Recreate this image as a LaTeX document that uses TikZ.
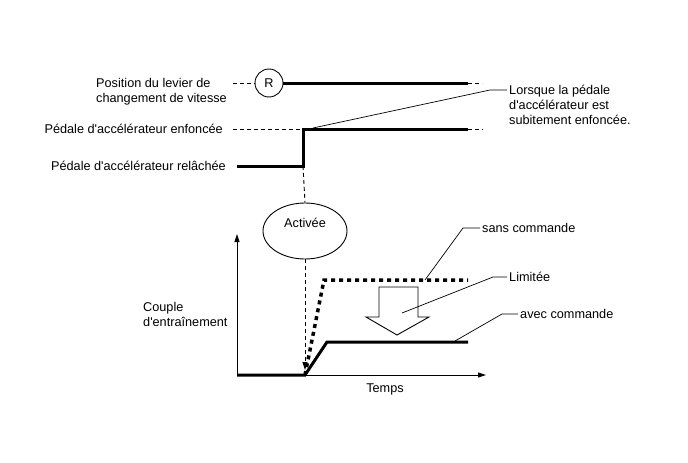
\documentclass[tikz,border=0pt]{standalone}
\usepackage{fontspec}
\setmainfont{Liberation Sans}[Ligatures=TeXOff]
\usetikzlibrary{shapes.geometric,arrows.meta,positioning}
\tikzset{lbl/.style={inner sep=2pt,align=left,font=\fontsize{12.7}{15}\selectfont}}

\begin{document}
\begin{tikzpicture}[x=1pt,y=-1pt,
        heavy/.style={line width=3pt},
        thinline/.style={line width=0.9pt},
        dashline/.style={line width=0.9pt,dash pattern=on 4pt off 3pt},
        dotline/.style={line width=3.5pt,dash pattern=on 4pt off 4pt},
        leader/.style={line width=0.7pt},
        tip/.style={-{Triangle[length=8pt,width=5pt]}}]
                \useasboundingbox (0,0) rectangle (688,463);
                % top: lever and pedal
                \node [lbl,anchor=west] (posTxt) at (94,92) {Position du levier de\\changement de vitesse};
                \node [lbl,anchor=east] (enfTxt) at (225,129) {P\'edale d'acc\'el\'erateur enfonc\'ee};
                \node [lbl,anchor=east] (relTxt) at (228,166) {P\'edale d'acc\'el\'erateur rel\^ach\'ee};
                \node [circle,draw,thinline,minimum size=28pt,inner sep=0pt,font=\fontsize{12.7}{15}\selectfont] (gear) at (269,83) {R};
                \coordinate (gearL) at (233,83);
                \coordinate (gearE) at (468,83);
                \coordinate (gearR) at (482,83);
                \coordinate (pedL) at (233,129);
                \coordinate (pedUp) at (303,129);
                \coordinate (pedE) at (468,129);
                \coordinate (pedR) at (483,129);
                \coordinate (relL) at (237,166);
                \coordinate (pedDown) at (303,166);
                \draw [dashline] (gearL) -- (gear.west);
                \draw [heavy] (gear.east) -- (gearE);
                \draw [dashline] (gearE) -- (gearR);
                \draw [dashline] (pedL) -- (pedUp);
                \draw [heavy] (relL) -- (pedDown) -- (pedUp) -- (pedE);
                \draw [dashline] (pedE) -- (pedR);
                \node [lbl,anchor=west] (noteTxt) at (507,105) {Lorsque la p\'edale\\d'acc\'el\'erateur est\\subitement enfonc\'ee.};
                \coordinate (noteTap) at (313,128);
                \coordinate (noteBend) at (490,90);
                \draw [leader] (noteTap) -- (noteBend) -- (noteTxt.west |- noteBend);
                % activation
                \node [ellipse,draw,thinline,minimum width=84pt,minimum height=56pt] (act) at (305,231) {};
                \node [lbl] (actTxt) at ([yshift=8pt]act.center) {Activ\'ee};
                \draw [dashline] (pedDown) -- (act.north);
                \coordinate (actEnd) at (305,370);
                \draw [dashline,tip] (act.south) -- (actEnd);
                % torque graph
                \coordinate (orig) at (237,375);
                \coordinate (yTop) at (237,234);
                \coordinate (xEnd) at (486,375);
                \draw [thinline,tip] (orig) -- (yTop);
                \draw [thinline,tip] (orig) -- (xEnd);
                \node [lbl,anchor=west] (torTxt) at (141,314) {Couple\\d'entra\^inement};
                \node [lbl] (timeTxt) at (385,389) {Temps};
                \coordinate (t0) at (305,375);
                \coordinate (with1) at (327,342);
                \coordinate (with2) at (468,342);
                \coordinate (sans1) at (324,280);
                \coordinate (sans2) at (468,280);
                \draw [heavy] (orig) -- (t0) -- (with1) -- (with2);
                \draw [dotline] (t0) -- (sans1) -- (sans2);
                \draw [thinline,fill=white] (379,287) -- (418,287) -- (418,317) -- (429,317)
                    -- (397,335) -- (366,317) -- (379,317) -- cycle;
                % leaders
                \node [lbl,anchor=west] (sansTxt) at (480,228) {sans commande};
                \node [lbl,anchor=west] (limTxt) at (507,277) {Limit\'ee};
                \node [lbl,anchor=west] (avecTxt) at (518,314) {avec commande};
                \coordinate (sansTap) at (425,280);
                \coordinate (sansBend) at (463,228);
                \coordinate (limTap) at (402,313);
                \coordinate (limBend) at (493,277);
                \coordinate (avecTap) at (455,341);
                \coordinate (avecBend) at (502,314);
                \draw [leader] (sansTap) -- (sansBend) -- (sansTxt.west);
                \draw [leader] (limTap) -- (limBend) -- (limTxt.west);
                \draw [leader] (avecTap) -- (avecBend) -- (avecTxt.west);
            \end{tikzpicture}
\end{document}
